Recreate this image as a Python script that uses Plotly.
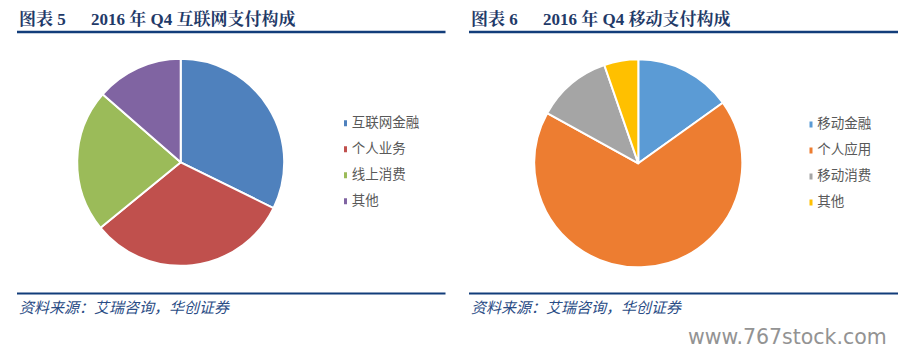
import plotly.graph_objects as go

W, H = 906, 356
OX, OY = 8, 8  # page body margin of the browser

# ---- data ----
internet_labels = ["互联网金融", "个人业务", "线上消费", "其他"]
internet_values = [32.3, 31.8, 22.3, 13.6]
internet_colors = ["#4F81BD", "#C0504D", "#9BBB59", "#8064A2"]

mobile_labels = ["移动金融", "个人应用", "移动消费", "其他"]
mobile_values = [15.1, 67.9, 11.7, 5.3]
mobile_colors = ["#5B9BD5", "#ED7D31", "#A5A5A5", "#FFC000"]

title_left_num = "图表 5"
title_left = "2016 年 Q4 互联网支付构成"
title_right_num = "图表 6"
title_right = "2016 年 Q4 移动支付构成"
source_text = "资料来源：艾瑞咨询，华创证券"
watermark = "www.767stock.com"


def fx(px):
    return (px - OX) / W


def fy(py):
    return 1 - (py - OY) / H


fig = go.Figure()

# pies
fig.add_trace(go.Pie(
    labels=internet_labels, values=internet_values, sort=False,
    direction="clockwise", rotation=0, textinfo="none", hoverinfo="label+value",
    marker=dict(colors=internet_colors, line=dict(color="white", width=2)),
    domain=dict(x=[fx(180.7 - 103.5), fx(180.7 + 103.5)],
                y=[fy(162.3 + 103.5), fy(162.3 - 103.5)]),
    showlegend=False,
))
fig.add_trace(go.Pie(
    labels=mobile_labels, values=mobile_values, sort=False,
    direction="clockwise", rotation=0, textinfo="none", hoverinfo="label+value",
    marker=dict(colors=mobile_colors, line=dict(color="white", width=2)),
    domain=dict(x=[fx(638.3 - 104), fx(638.3 + 104)],
                y=[fy(163.3 + 104), fy(163.3 - 104)]),
    showlegend=False,
))

# legends drawn as marker+text scatter on hidden categorical axes
legend_font = dict(family="Noto Sans CJK SC, Noto Sans, sans-serif", size=13.5, color="#595959")
fig.add_trace(go.Scatter(
    x=[0] * len(internet_labels), y=internet_labels, mode="markers+text",
    marker=dict(symbol="square", size=6, color=internet_colors),
    text=[" " + t for t in internet_labels], textposition="middle right",
    textfont=legend_font, xaxis="x", yaxis="y", showlegend=False, hoverinfo="skip",
))
fig.add_trace(go.Scatter(
    x=[0] * len(mobile_labels), y=mobile_labels, mode="markers+text",
    marker=dict(symbol="square", size=6, color=mobile_colors),
    text=[" " + t for t in mobile_labels], textposition="middle right",
    textfont=legend_font, xaxis="x2", yaxis="y2", showlegend=False, hoverinfo="skip",
))

hidden = dict(visible=False, showgrid=False, zeroline=False, fixedrange=True)
fig.update_layout(
    xaxis=dict(domain=[fx(344), fx(450)], range=[0, 1], **hidden),
    yaxis=dict(domain=[fy(214.3), fy(110.3)], type="category",
               categoryorder="array", categoryarray=internet_labels,
               range=[3.5, -0.5], anchor="x", **hidden),
    xaxis2=dict(domain=[fx(809.5), fx(906)], range=[0, 1], anchor="y2", **hidden),
    yaxis2=dict(domain=[fy(215.5), fy(111.5)], type="category",
                categoryorder="array", categoryarray=mobile_labels,
                range=[3.5, -0.5], anchor="x2", **hidden),
)

navy = "#123D7A"
title_font = dict(family="Liberation Serif, Noto Serif CJK SC, Noto Sans CJK SC, serif",
                  size=17, color="#1F3A68", weight="bold")
source_font = dict(family="Liberation Serif, Noto Sans CJK SC, serif", size=15,
                   color="#2A4C85", style="italic")

annotations = [
    dict(text=title_left_num, x=fx(17), y=fy(19), xanchor="left", yanchor="middle",
         font=title_font),
    dict(text=title_left, x=fx(89), y=fy(19), xanchor="left", yanchor="middle",
         font=title_font),
    dict(text=title_right_num, x=fx(469), y=fy(19), xanchor="left", yanchor="middle",
         font=title_font),
    dict(text=title_right, x=fx(541), y=fy(19), xanchor="left", yanchor="middle",
         font=title_font),
    dict(text=source_text, x=fx(17), y=fy(308), xanchor="left", yanchor="middle",
         font=source_font),
    dict(text=source_text, x=fx(469), y=fy(308), xanchor="left", yanchor="middle",
         font=source_font),
    dict(text=watermark, x=fx(889), y=fy(337), xanchor="right", yanchor="middle",
         font=dict(family="DejaVu Sans, sans-serif", size=20.5, color="#939393")),
]
for a in annotations:
    a.update(xref="paper", yref="paper", showarrow=False)

shapes = []
for x0, x1 in [(17, 445.5), (469, 898)]:
    shapes.append(dict(type="line", xref="paper", yref="paper", x0=fx(x0), x1=fx(x1),
                       y0=fy(32), y1=fy(32), line=dict(color=navy, width=2.5)))
    shapes.append(dict(type="line", xref="paper", yref="paper", x0=fx(x0), x1=fx(x1),
                       y0=fy(293.5), y1=fy(293.5), line=dict(color=navy, width=2)))

fig.update_layout(
    width=W, height=H, margin=dict(l=0, r=0, t=0, b=0),
    paper_bgcolor="white", plot_bgcolor="white",
    annotations=annotations, shapes=shapes, showlegend=False,
)

fig.write_html("out.html")
